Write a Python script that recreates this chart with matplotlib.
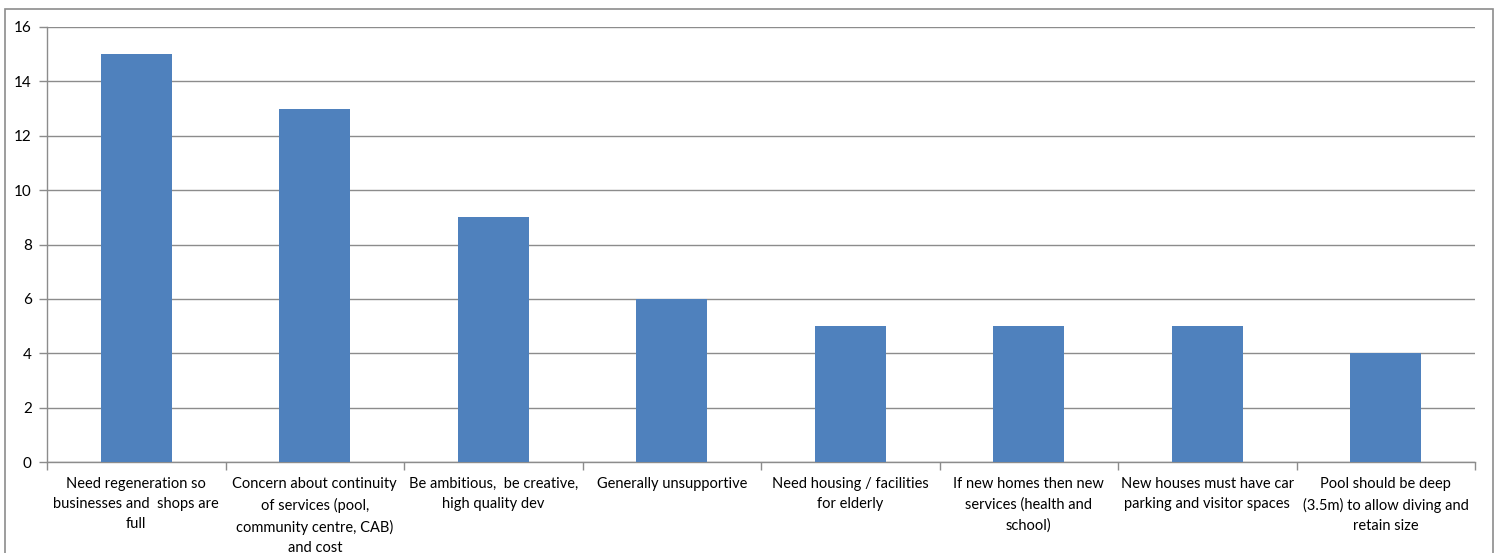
import matplotlib
matplotlib.use("Agg")
import matplotlib.pyplot as plt
from matplotlib.patches import Rectangle
import numpy as np

categories = [
    "Need regeneration so\nbusinesses and  shops are\nfull",
    "Concern about continuity\nof services (pool,\ncommunity centre, CAB)\nand cost",
    "Be ambitious,  be creative,\nhigh quality dev",
    "Generally unsupportive",
    "Need housing / facilities\nfor elderly",
    "If new homes then new\nservices (health and\nschool)",
    "New houses must have car\nparking and visitor spaces",
    "Pool should be deep\n(3.5m) to allow diving and\nretain size",
]
counts = [15, 13, 9, 6, 5, 5, 5, 4]
yticks = [0, 2, 4, 6, 8, 10, 12, 14, 16]

plt.rcParams["font.family"] = ["Lato", "DejaVu Sans"]
grey = "#8c8c8c"

fig = plt.figure(figsize=(14.99, 5.53), dpi=100)
ax = fig.add_axes([47 / 1499, 1 - 462 / 553, (1475 - 47) / 1499, (462 - 27) / 553])

# outer chart frame, running off the bottom edge
fig.patches.append(Rectangle((5 / 1499, -0.05), (1493 - 5) / 1499, 1 - 9 / 553 + 0.05,
                             transform=fig.transFigure, fill=False,
                             edgecolor=grey, linewidth=1.2))

x = np.arange(len(counts))
ax.bar(x, counts, width=0.4, color="#4F81BD", zorder=3)

ax.set_xlim(-0.5, len(counts) - 0.5)
ax.set_ylim(0, 16)
ax.set_yticks(yticks)
ax.yaxis.grid(True, color=grey, linewidth=1)
ax.set_axisbelow(True)

ax.set_xticks(x)
ax.set_xticklabels(categories, fontsize=10.5, linespacing=1.55, va="top")
ax.set_xticks(np.arange(len(counts) + 1) - 0.5, minor=True)
ax.tick_params(axis="x", which="major", length=0, pad=11, colors="black")
ax.tick_params(axis="x", which="minor", length=6, color=grey, width=1)
ax.tick_params(axis="y", length=6, color=grey, width=1, labelsize=11, pad=5)

for s in ["top", "right"]:
    ax.spines[s].set_visible(False)
for s in ["left", "bottom"]:
    ax.spines[s].set_color(grey)
    ax.spines[s].set_linewidth(1)

fig.savefig("out.png", dpi=100)
